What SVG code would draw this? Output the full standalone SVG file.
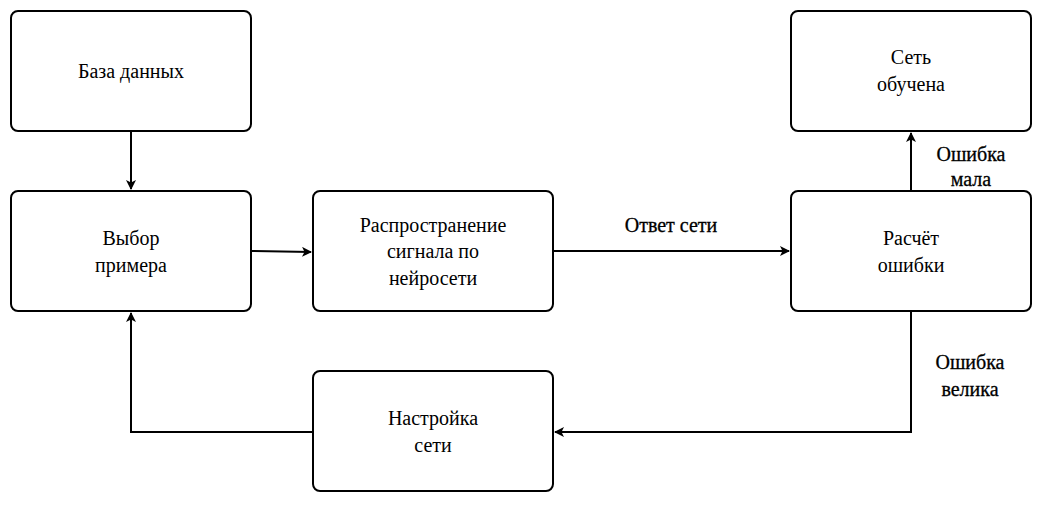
<svg xmlns="http://www.w3.org/2000/svg" width="1053" height="513" viewBox="0 0 1053 513">
<style>
.box{fill:#fff;stroke:#000;stroke-width:2}
.t{font-family:'Liberation Serif','Times New Roman',serif;font-size:20px;fill:#000;text-anchor:middle}
.lbl{font-family:'Liberation Serif','Times New Roman',serif;font-size:20px;fill:#000;text-anchor:middle;stroke:#000;stroke-width:0.3}
.c{fill:none;stroke:#000;stroke-width:2}
</style>
<defs>
<marker id="ah" markerWidth="10" markerHeight="10" refX="9" refY="5" orient="auto" markerUnits="userSpaceOnUse">
<path d="M0,0 L10,5 L0,10 L2.5,5 Z" fill="#000"/>
</marker>
</defs>
<rect width="1053" height="513" fill="#fff"/>
<g id="connectors">
<path class="c" d="M131,131 L131,189" marker-end="url(#ah)"/>
<path class="c" d="M252,251 L311,252" marker-end="url(#ah)"/>
<path class="c" d="M553,251 L789,251" marker-end="url(#ah)"/>
<path class="c" d="M911,191 L911,133" marker-end="url(#ah)"/>
<path class="c" d="M911,311 L911,432 L555,432" marker-end="url(#ah)"/>
<path class="c" d="M313,432 L131,432 L131,313" marker-end="url(#ah)"/>
<text class="lbl" x="671" y="232">Ответ сети</text>
<text class="lbl" x="971" y="161">Ошибка</text>
<text class="lbl" x="971" y="186">мала</text>
<text class="lbl" x="970" y="369">Ошибка</text>
<text class="lbl" x="970" y="396">велика</text>
</g>
<g id="db">
<rect class="box" x="11" y="11" width="240" height="120" rx="7"/>
<text class="t" x="131" y="78">База данных</text>
</g>
<g id="select">
<rect class="box" x="11" y="191" width="240" height="120" rx="7"/>
<text class="t" x="131" y="245">Выбор</text>
<text class="t" x="131" y="272">примера</text>
</g>
<g id="propagate">
<rect class="box" x="313" y="191" width="240" height="120" rx="7"/>
<text class="t" x="433" y="232">Распространение</text>
<text class="t" x="433" y="258">сигнала по</text>
<text class="t" x="433" y="285">нейросети</text>
</g>
<g id="error">
<rect class="box" x="791" y="191" width="240" height="120" rx="7"/>
<text class="t" x="911" y="245">Расчёт</text>
<text class="t" x="911" y="272">ошибки</text>
</g>
<g id="trained">
<rect class="box" x="791" y="11" width="240" height="120" rx="7"/>
<text class="t" x="911" y="64">Сеть</text>
<text class="t" x="911" y="91">обучена</text>
</g>
<g id="tune">
<rect class="box" x="313" y="371" width="240" height="120" rx="7"/>
<text class="t" x="433" y="425">Настройка</text>
<text class="t" x="433" y="452">сети</text>
</g>
</svg>
